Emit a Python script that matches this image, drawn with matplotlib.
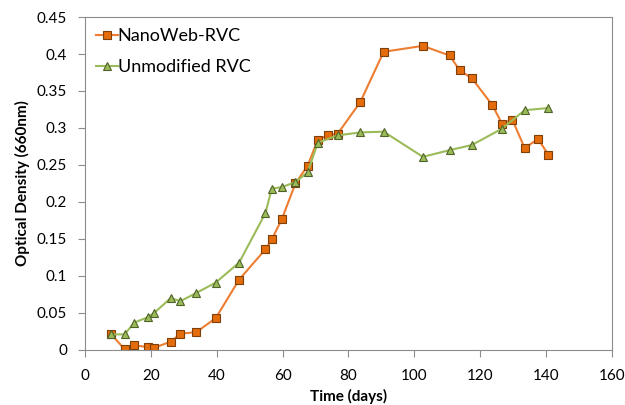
import numpy as np
import matplotlib
matplotlib.use("Agg")
import matplotlib.pyplot as plt
from matplotlib.ticker import FuncFormatter

# dados
nano_dias = [8, 12, 15, 19, 21, 26, 29, 33.8, 39.7, 46.8, 54.8, 56.8, 59.8, 63.9, 67.6,
             70.7, 73.7, 76.7, 83.6, 90.7, 102.6, 110.7, 113.8, 117.5, 123.7, 126.6,
             129.8, 133.5, 137.6, 140.7]
nano_od = [0.021, 0.001, 0.006, 0.004, 0.003, 0.011, 0.022, 0.024, 0.043, 0.095, 0.136,
           0.150, 0.177, 0.225, 0.249, 0.284, 0.290, 0.292, 0.335, 0.403, 0.411, 0.398,
           0.378, 0.367, 0.331, 0.306, 0.311, 0.273, 0.285, 0.264]

rvc_dias = [8, 12, 15, 19, 21, 26, 29, 33.8, 39.7, 46.8, 54.8, 56.7, 59.8, 63.9, 67.6,
            70.7, 76.7, 83.6, 90.7, 102.6, 110.7, 117.5, 126.6, 133.5, 140.7]
rvc_od = [0.021, 0.021, 0.037, 0.044, 0.050, 0.070, 0.066, 0.077, 0.091, 0.118, 0.185,
          0.218, 0.220, 0.227, 0.240, 0.280, 0.290, 0.294, 0.295, 0.261, 0.270, 0.277,
          0.299, 0.324, 0.327]

plt.rcParams['font.family'] = ['Lato', 'DejaVu Sans']

fig = plt.figure(figsize=(6.25, 4.05), dpi=100)
ax = fig.add_axes([0.136, 0.136, 0.843, 0.822])

ax.plot(nano_dias, nano_od, color='#ED7D31', lw=1.5, marker='s', ms=6,
        mfc='#E46C0A', mec='#7F3F0A', mew=0.8, label='NanoWeb-RVC')
ax.plot(rvc_dias, rvc_od, color='#9BBB59', lw=1.5, marker='^', ms=6,
        mfc='#9BBB59', mec='#4F6228', mew=0.8, label='Unmodified RVC')

ax.set_xlim(0, 160)
ax.set_ylim(0, 0.45)
ax.set_xticks(np.arange(0, 161, 20))
ax.set_yticks(np.arange(0, 0.451, 0.05))
ax.yaxis.set_major_formatter(FuncFormatter(lambda v, p: '0' if v == 0 else ('%.2f' % v).rstrip('0')))

for s in ax.spines.values():
    s.set_color('#8c8c8c')
ax.tick_params(colors='#8c8c8c', labelcolor='black', labelsize=11, length=5)
ax.tick_params(axis='x', pad=9)
ax.tick_params(axis='y', pad=8)

ax.set_xlabel('Time (days)', fontsize=11, fontweight='bold', labelpad=4)
ax.set_ylabel('Optical Density (660nm)', fontsize=11, fontweight='bold', labelpad=5)

ax.legend(loc='upper left', frameon=False, fontsize=13, handlelength=1.2,
          handletextpad=0.0, labelspacing=0.85, borderaxespad=0.2)

fig.savefig('out.png', dpi=100)
